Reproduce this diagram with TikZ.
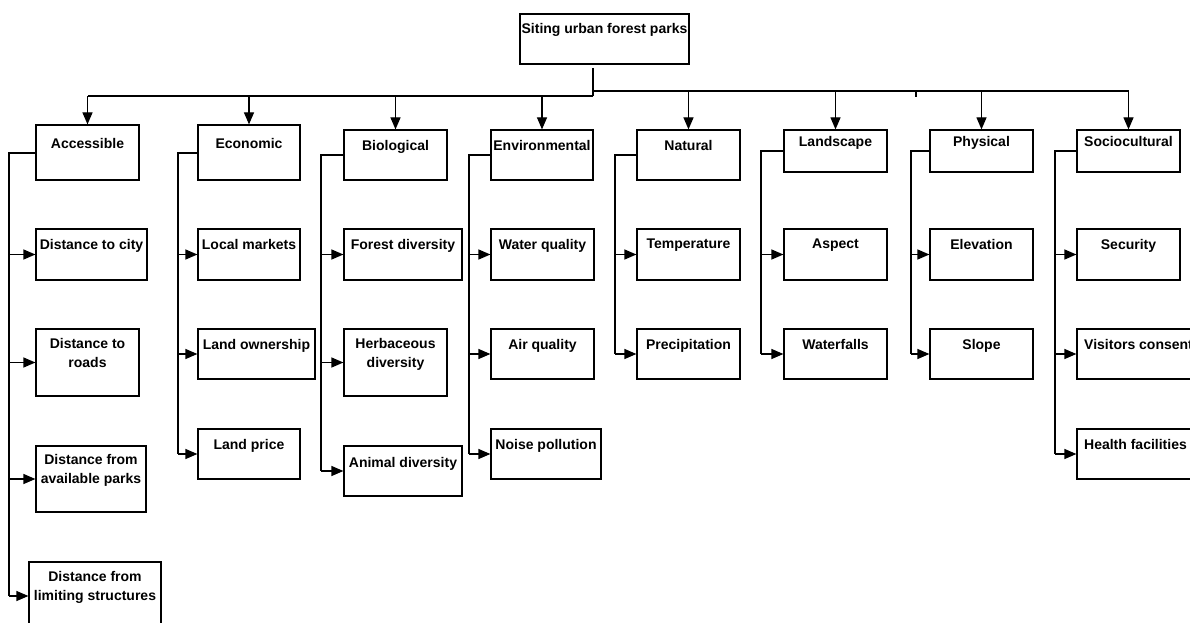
\documentclass[tikz,border=0pt]{standalone}
\usepackage{fontspec}
\setmainfont{Liberation Sans}
\usetikzlibrary{arrows.meta}
\tikzset{
  boxst/.style={draw, rectangle, line width=1.2pt, inner sep=0pt},
  txt/.style={anchor=north, inner sep=0pt, align=center, font=\bfseries\fontsize{14}{19}\selectfont},
  conn/.style={line width=1.2pt},
  arr/.style={line width=1.2pt, -{Triangle[length=12pt,width=10pt]}},
}
\newcommand\bx[7]{%
  \node[boxst, minimum width={#4pt-#2pt}, minimum height={#5pt-#3pt}] (#1) at ({(#2+#4)/2},{(#3+#5)/2}) {};
  \node[txt] (#1-t) at ([yshift=-#7pt-1.5pt]#1.north) {#6};}
\begin{document}
\begin{tikzpicture}[x=1pt,y=-1pt]
\clip (0,0) rectangle (1190,623);
\fill[white] (0,0) rectangle (1190,623);
% root
\bx{root}{520}{14}{689}{64}{Siting urban forest parks}{8}
% categories
\bx{acc}{36}{125}{139}{180}{Accessible}{12}
\bx{eco}{198}{125}{300}{180}{Economic}{12}
\bx{bio}{344}{130}{447}{180}{Biological}{9}
\bx{env}{491}{130}{593}{180}{Environmental}{9}
\bx{nat}{637}{130}{740}{180}{Natural}{9}
\bx{lan}{784}{130}{887}{172}{Landscape}{5}
\bx{phy}{930}{130}{1033}{172}{Physical}{5}
\bx{soc}{1077}{130}{1180}{172}{Sociocultural}{5}
% Accessible children
\bx{a1}{36}{229}{147}{280}{Distance to city}{9}
\bx{a2}{36}{329}{139}{396}{Distance to\\roads}{8}
\bx{a3}{36}{446}{146}{512}{Distance from\\available parks}{7}
\bx{a4}{29}{562}{161}{630}{Distance from\\limiting structures}{8}
% Economic children
\bx{e1}{198}{229}{300}{280}{Local markets}{9}
\bx{e2}{198}{329}{315}{379}{Land ownership}{9}
\bx{e3}{198}{429}{300}{479}{Land price}{9}
% Biological children
\bx{b1}{344}{229}{462}{280}{Forest diversity}{9}
\bx{b2}{344}{329}{447}{396}{Herbaceous\\diversity}{8}
\bx{b3}{344}{446}{462}{496}{Animal diversity}{10}
% Environmental children
\bx{v1}{491}{229}{594}{280}{Water quality}{9}
\bx{v2}{491}{329}{594}{379}{Air quality}{9}
\bx{v3}{491}{429}{601}{479}{Noise pollution}{9}
% Natural children
\bx{n1}{637}{229}{740}{280}{Temperature}{9}
\bx{n2}{637}{329}{740}{379}{Precipitation}{9}
% Landscape children
\bx{l1}{784}{229}{887}{280}{Aspect}{9}
\bx{l2}{784}{329}{887}{379}{Waterfalls}{9}
% Physical children
\bx{p1}{930}{229}{1033}{280}{Elevation}{9}
\bx{p2}{930}{329}{1033}{379}{Slope}{9}
% Sociocultural children
\bx{s1}{1077}{229}{1180}{280}{Security}{9}
\bx{s2}{1077}{329}{1200}{379}{Visitors consent}{9}
\bx{s3}{1077}{429}{1194}{479}{Health facilities}{9}
% bus
\coordinate (stemtop) at (593,68);
\coordinate (jl) at (593,96);
\coordinate (jr) at (593,91);
\coordinate (tick) at (916,91);
\draw[conn] (stemtop) -- (jl);
\draw[conn] (jl) -- (jl -| acc.north);
\draw[conn] (jr) -- (jr -| soc.north);
\draw[line width=1.6pt] (tick) -- ++(0,6);
\foreach \c in {acc,eco,bio,env} \draw[arr] (jl -| \c.north) -- (\c.north);
\foreach \c in {nat,lan,phy,soc} \draw[arr] (jr -| \c.north) -- (\c.north);
% brackets
\coordinate (kA) at (9,153);
\coordinate (kE) at (178,153);
\coordinate (kB) at (321,155);
\coordinate (kV) at (469,155);
\coordinate (kN) at (615,155);
\coordinate (kL) at (761,151);
\coordinate (kP) at (911,151);
\coordinate (kS) at (1055,151);
\draw[conn] (acc.west |- kA) -- (kA) -- (kA |- a4.west);
\foreach \k in {a1,a2,a3,a4} \draw[arr] (kA |- \k.west) -- (\k.west);
\draw[conn] (eco.west |- kE) -- (kE) -- (kE |- e3.west);
\foreach \k in {e1,e2,e3} \draw[arr] (kE |- \k.west) -- (\k.west);
\draw[conn] (bio.west |- kB) -- (kB) -- (kB |- b3.west);
\foreach \k in {b1,b2,b3} \draw[arr] (kB |- \k.west) -- (\k.west);
\draw[conn] (env.west |- kV) -- (kV) -- (kV |- v3.west);
\foreach \k in {v1,v2,v3} \draw[arr] (kV |- \k.west) -- (\k.west);
\draw[conn] (nat.west |- kN) -- (kN) -- (kN |- n2.west);
\foreach \k in {n1,n2} \draw[arr] (kN |- \k.west) -- (\k.west);
\draw[conn] (lan.west |- kL) -- (kL) -- (kL |- l2.west);
\foreach \k in {l1,l2} \draw[arr] (kL |- \k.west) -- (\k.west);
\draw[conn] (phy.west |- kP) -- (kP) -- (kP |- p2.west);
\foreach \k in {p1,p2} \draw[arr] (kP |- \k.west) -- (\k.west);
\draw[conn] (soc.west |- kS) -- (kS) -- (kS |- s3.west);
\foreach \k in {s1,s2,s3} \draw[arr] (kS |- \k.west) -- (\k.west);
\end{tikzpicture}
\end{document}
